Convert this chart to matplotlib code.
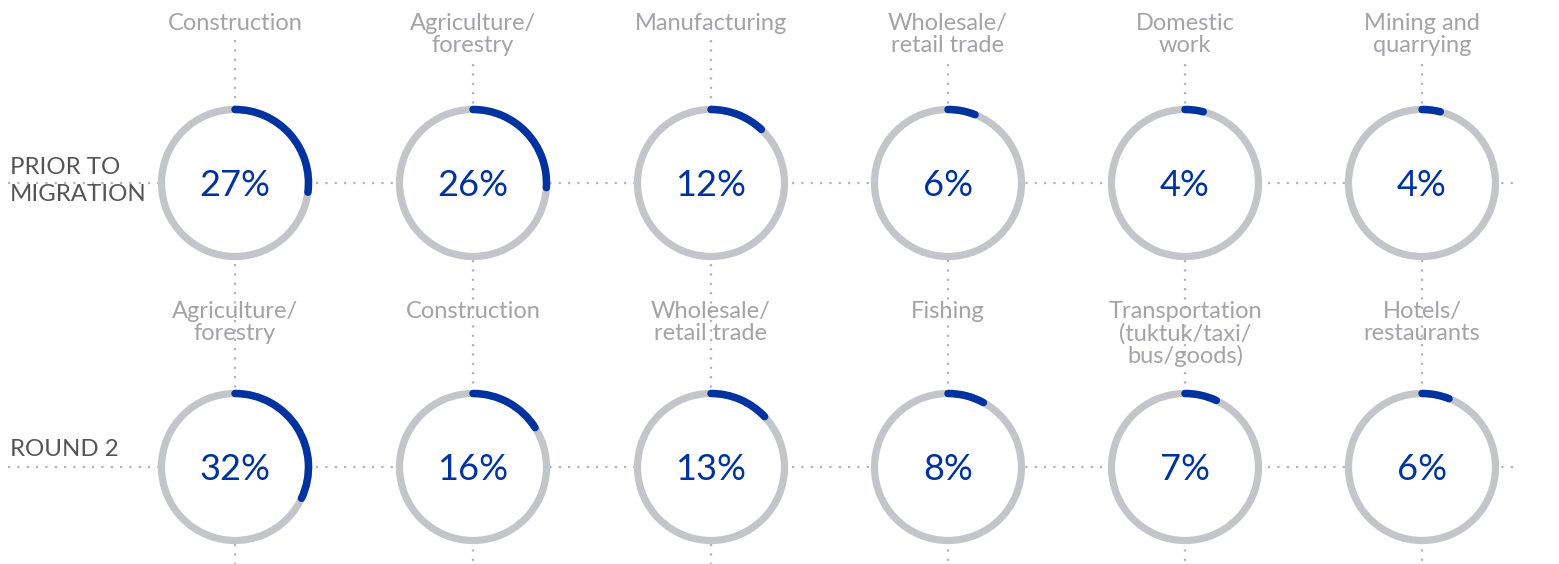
import matplotlib.pyplot as plt
from matplotlib.patches import Arc, Circle

# Daten
row_labels = ['PRIOR TO\nMIGRATION', 'ROUND 2']
sectors_prior = ['Construction', 'Agriculture/\nforestry', 'Manufacturing',
                 'Wholesale/\nretail trade', 'Domestic\nwork', 'Mining and\nquarrying']
values_prior = [27, 26, 12, 6, 4, 4]
sectors_round2 = ['Agriculture/\nforestry', 'Construction', 'Wholesale/\nretail trade',
                  'Fishing', 'Transportation\n(tuktuk/taxi/\nbus/goods)', 'Hotels/\nrestaurants']
values_round2 = [32, 16, 13, 8, 7, 6]

# Farben
grey_ring = '#c4c5c9'
blue = '#0033a0'
label_grey = '#a3a3a8'
dot_grey = '#b4b4b8'
row_grey = '#555555'

plt.rcParams['font.family'] = ['Lato', 'DejaVu Sans']

W, H = 1559, 564
fig = plt.figure(figsize=(W / 100, H / 100), dpi=100)
ax = fig.add_axes([0, 0, 1, 1])
ax.set_xlim(0, W)
ax.set_ylim(H, 0)
ax.set_aspect('equal')
ax.axis('off')

col_x = [235, 473, 711, 948, 1185, 1422]
row_y = [183, 467]
label_top = [13, 301]
r = 73.5
line_h = 24

rows = [(sectors_prior, values_prior), (sectors_round2, values_round2)]
dots = dict(color=dot_grey, lw=1.6, linestyle=(0, (1, 3.2)), zorder=1)

# horizontale Punktlinien
for y in row_y:
    ax.plot([8, 1520], [y, y], **dots)

# vertikale Punktlinien (unter den oberen Beschriftungen beginnend)
for i, x in enumerate(col_x):
    n = sectors_prior[i].count('\n') + 1
    y0 = label_top[0] + n * line_h + 3
    ax.plot([x, x], [y0, H], **dots)

for ri, (names, vals) in enumerate(rows):
    y = row_y[ri]
    for x, name, v in zip(col_x, names, vals):
        ax.add_patch(Circle((x, y), r, facecolor='white', edgecolor='none', zorder=2))
        ax.add_patch(Arc((x, y), 2 * r, 2 * r, theta1=0, theta2=360,
                         color=grey_ring, lw=5.2, zorder=3))
        # y-Achse invertiert: Winkel im Uhrzeigersinn ab oben
        a = Arc((x, y), 2 * r, 2 * r, theta1=270, theta2=270 + v * 3.6,
                color=blue, lw=5.4, zorder=4)
        a.set_capstyle('round')
        ax.add_patch(a)
        ax.text(x, y + 2, f'{v}%', ha='center', va='center', fontsize=26,
                color=blue, zorder=5)
        ax.text(x, label_top[ri], name, ha='center', va='top', fontsize=17,
                color=label_grey, linespacing=1.04, zorder=5)

# Zeilenbeschriftungen
ax.text(10, 181, row_labels[0], ha='left', va='center', fontsize=17.3,
        color=row_grey, linespacing=1.34, zorder=5)
ax.text(10, 450, row_labels[1], ha='left', va='center', fontsize=17.3,
        color=row_grey, zorder=5)

plt.savefig('out.png', dpi=100, facecolor='white')
plt.close()
